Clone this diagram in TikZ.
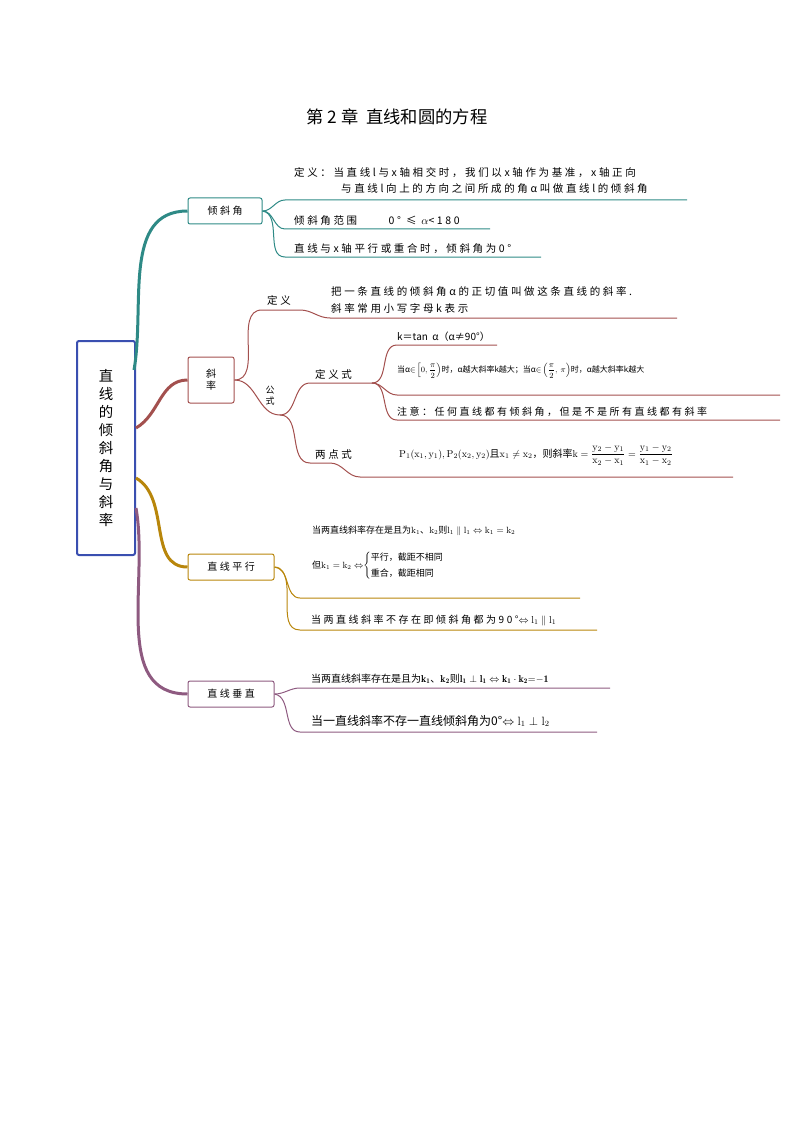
\documentclass[tikz,border=0pt]{standalone}
\usepackage{fontspec}
\usepackage{amsmath,amssymb}
\newfontfamily\cjk[LetterSpace=25]{Noto Sans CJK SC}
\newfontfamily\cjkt{Noto Sans CJK SC}
\usetikzlibrary{positioning}
\definecolor{rootc}{HTML}{3A4FB0}
\definecolor{tealc}{HTML}{2E8A86}
\definecolor{redc}{HTML}{A3504E}
\definecolor{goldc}{HTML}{B8860B}
\definecolor{purc}{HTML}{8E5A80}
\tikzset{
  box/.style={draw, rounded corners=2pt, line width=1pt, font=\cjk\normalsize, inner sep=3pt},
  txt/.style={anchor=south west, font=\cjk\fontsize{10.5}{12}\selectfont, inner sep=1pt},
  leaf/.style={line width=1pt},
  trunk/.style={line width=3pt},
}
\begin{document}
\begin{tikzpicture}[x=1pt,y=-1pt]
\useasboundingbox (0,0) rectangle (794,1123);
% title
\node[font=\cjkt\LARGE] (title) at (397,117) {第 2 章\ \ 直线和圆的方程};
% root and first level
\node[box, draw=rootc, line width=2pt, minimum width=58pt, minimum height=214pt, align=center, font=\cjkt\Large] (root) at (106,448) {直\\线\\的\\倾\\斜\\角\\与\\斜\\率};
\node[box, draw=tealc, minimum width=74pt, minimum height=26pt] (qxj) at (225,211) {倾斜角};
\node[box, draw=redc, minimum width=46pt, minimum height=46pt, align=center] (xl) at (211,380) {斜\\率};
\node[box, draw=goldc, minimum width=86pt, minimum height=26pt] (px) at (231,567) {直线平行};
\node[box, draw=purc, minimum width=86pt, minimum height=26pt] (cz) at (231,694) {直线垂直};
\draw[trunk, tealc] (root.north east) ++(-2,30) to[out=80,in=180] (qxj.west);
\draw[trunk, redc] (root.east) ++(0,-20) to[out=30,in=180] (xl.west);
\draw[trunk, goldc] (root.east) ++(0,30) to[out=-30,in=180] (px.west);
\draw[trunk, purc] (root.east) ++(0,60) to[out=-80,in=180] (cz.west);
% 倾斜角
\coordinate (t1) at (687,200);
\coordinate (t2) at (490,229);
\coordinate (t3) at (541,257);
\draw[leaf, tealc] (qxj.east) to[out=0,in=180] (285,200) -- (t1);
\draw[leaf, tealc] (qxj.east) to[out=0,in=180] (285,229) -- (t2);
\draw[leaf, tealc] (qxj.east) to[out=-10,in=180] (285,257) -- (t3);
\node[txt, anchor=west] (t1a) at (293,173) {定义：当直线l与x轴相交时，我们以x轴作为基准，x轴正向};
\node[txt, anchor=west] (t1b) at (340,189) {与直线l向上的方向之间所成的角α叫做直线l的倾斜角};
\node[txt] (t2a) at (293,227) {倾斜角范围\hspace{3em}0°\ ≤\ $\alpha$<180};
\node[txt] (t3a) at (293,255) {直线与x轴平行或重合时，倾斜角为0°};
% 斜率
\coordinate (d1) at (677,318);
\draw[leaf, redc] (xl.east) to[out=0,in=180] (262,310) -- (300,310) to[out=0,in=180] (330,318) -- (d1);
\node[txt] (dy) at (266,307) {定义};
\node[txt, anchor=west] (d1a) at (330,292) {把一条直线的倾斜角α的正切值叫做这条直线的斜率.};
\node[txt, anchor=west] (d1b) at (330,308) {斜率常用小写字母k表示};
\coordinate (gs) at (280,415);
\draw[leaf, redc] (xl.east) to[out=0,in=180] (gs);
\node[font=\cjkt\small, align=center] (gsa) at (270,396) {公\\式};
\draw[leaf, redc] (gs) to[out=0,in=180] (310,383) -- (372,383);
\node[txt] (dyx) at (314,381) {定义式};
\coordinate (k1) at (497,345);
\coordinate (k2) at (780,395);
\coordinate (k3) at (780,420);
\draw[leaf, redc] (372,383) to[out=0,in=180] (397,345) -- (k1);
\draw[leaf, redc] (372,383) to[out=0,in=180] (397,395) -- (k2);
\draw[leaf, redc] (372,383) to[out=0,in=180] (397,420) -- (k3);
\node[txt, font=\cjkt\normalsize] (k1a) at (396,343) {k＝tan\ \ α（α≠90°）};
\node[txt, anchor=west, font=\cjkt\footnotesize] (k2a) at (396,371) {当α$\in\!\left[0,\dfrac{\pi}{2}\right)$时，α越大斜率k越大；当α$\in\!\left(\dfrac{\pi}{2},\ \pi\right)$时，α越大斜率k越大};
\node[txt, font=\cjk\fontsize{10}{12}\selectfont] (k3a) at (396,418) {注意：任何直线都有倾斜角，但是不是所有直线都有斜率};
\coordinate (lp) at (733,477);
\draw[leaf, redc] (gs) to[out=0,in=180] (310,463) -- (330,463) to[out=0,in=180] (360,477) -- (lp);
\node[txt] (ldx) at (314,461) {两点式};
\node[txt, anchor=west, font=\cjkt\normalsize] (lpa) at (398,455) {$\mathrm{P_1(x_1,y_1),P_2(x_2,y_2)}$且$\mathrm{x_1\neq x_2}$，则斜率$\mathrm{k=\dfrac{y_2-y_1}{x_2-x_1}=\dfrac{y_1-y_2}{x_1-x_2}}$};
% 直线平行
\coordinate (p1) at (580,598);
\coordinate (p2) at (597,630);
\draw[leaf, goldc] (px.east) to[out=0,in=180] (300,598) -- (p1);
\draw[leaf, goldc] (px.east) to[out=-10,in=180] (300,630) -- (p2);
\node[txt, anchor=west, font=\cjkt\small] (p1a) at (311,531) {当两直线斜率存在是且为$\mathrm{k_1}$、$\mathrm{k_2}$则$\mathrm{l_1\parallel l_1\Leftrightarrow k_1=k_2}$};
\node[txt, anchor=west, font=\cjkt\small] (p1b) at (311,566) {但$\mathrm{k_1=k_2\Leftrightarrow}$$\left\{\begin{array}{@{}l@{}}\text{\cjkt 平行，截距不相同}\\[5pt]\text{\cjkt 重合，截距相同}\end{array}\right.$};
\node[txt, font=\cjk\fontsize{10}{12}\selectfont] (p2a) at (310,627) {当两直线斜率不存在即倾斜角都为90°$\mathrm{\Leftrightarrow l_1\parallel l_1}$};
% 直线垂直
\coordinate (c1) at (610,688);
\coordinate (c2) at (597,732);
\draw[leaf, purc] (cz.east) to[out=0,in=180] (300,688) -- (c1);
\draw[leaf, purc] (cz.east) to[out=-10,in=180] (300,732) -- (c2);
\node[txt, font=\cjkt\normalsize] (c1a) at (310,685) {当两直线斜率存在是且为$\mathbf{k_1}$、$\mathbf{k_2}$则$\mathbf{l_1\perp l_1\Leftrightarrow k_1\cdot k_2{=}{-}1}$};
\node[txt, font=\cjkt\large] (c2a) at (310,728) {当一直线斜率不存一直线倾斜角为0°$\mathrm{\Leftrightarrow l_1\perp l_2}$};
\end{tikzpicture}
\end{document}
